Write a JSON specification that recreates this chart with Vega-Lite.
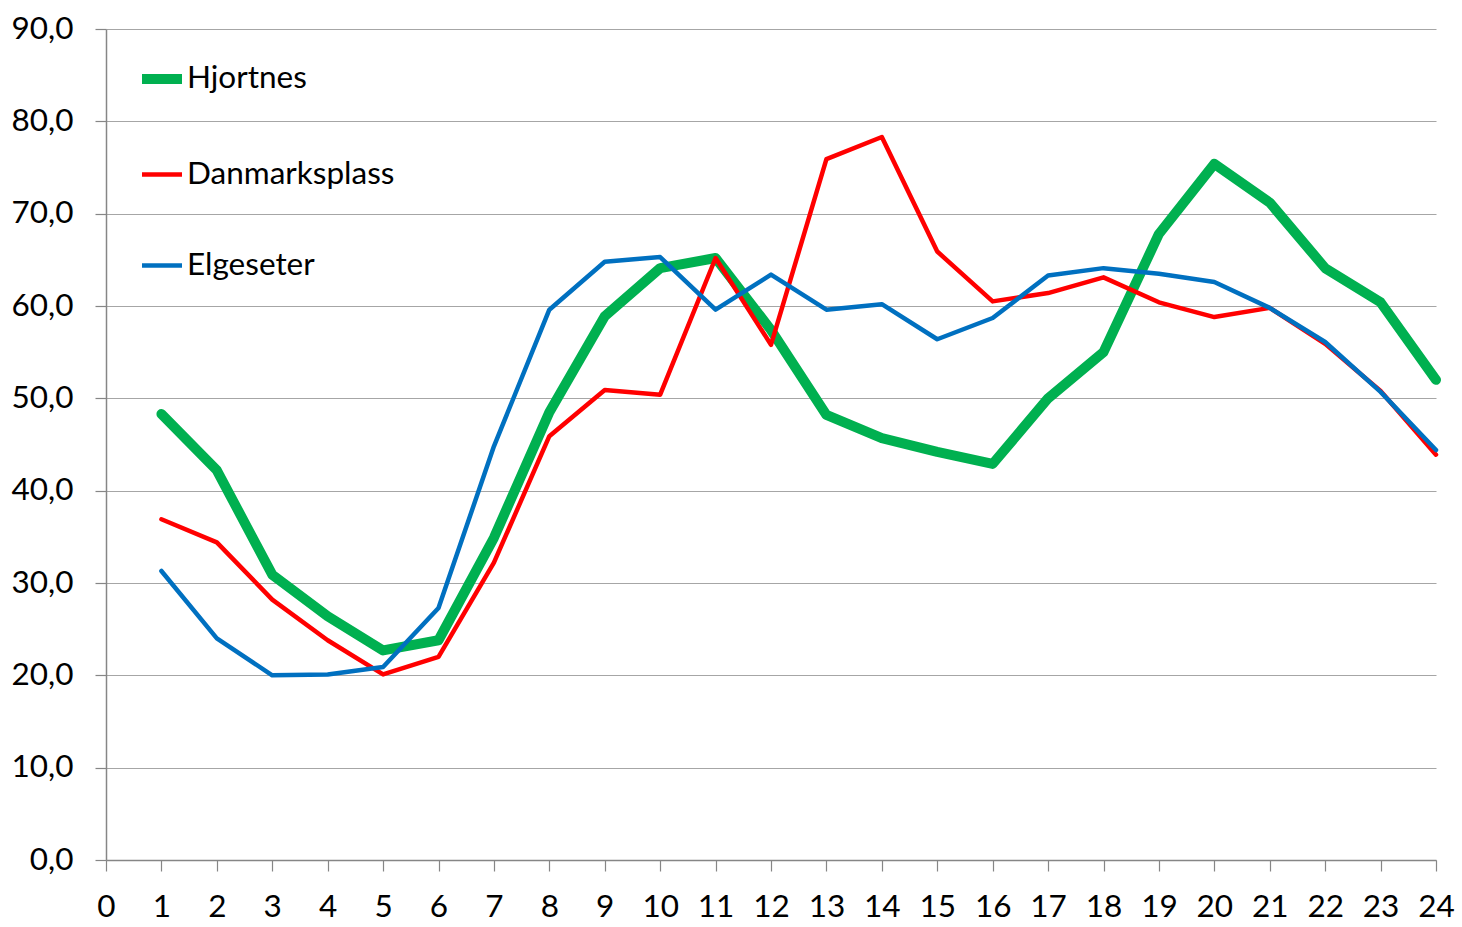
{
  "$schema": "https://vega.github.io/schema/vega-lite/v6.json",
  "autosize": {"type": "none"},
  "width": 1330,
  "height": 831,
  "padding": {"left": 106, "top": 29, "right": 26, "bottom": 67},
  "background": "white",
  "config": {
    "view": {"stroke": null},
    "font": "Lato",
    "axis": {"labelFont": "Lato", "labelFontSize": 31.5, "labelColor": "black", "domainColor": "#868686", "tickColor": "#868686", "gridColor": "#A6A6A6", "tickSize": 11, "domainWidth": 1.5, "tickWidth": 1.2, "gridWidth": 1.2},
    "legend": {"labelFont": "Lato", "labelFontSize": 31.5, "labelColor": "black", "labelLimit": 500, "padding": 0}
  },
  "data": {"values": [
    {"h":1,"s":"Hjortnes","v":48.3},{"h":2,"s":"Hjortnes","v":42.2},{"h":3,"s":"Hjortnes","v":30.9},{"h":4,"s":"Hjortnes","v":26.4},{"h":5,"s":"Hjortnes","v":22.7},{"h":6,"s":"Hjortnes","v":23.8},{"h":7,"s":"Hjortnes","v":34.9},{"h":8,"s":"Hjortnes","v":48.5},{"h":9,"s":"Hjortnes","v":58.9},{"h":10,"s":"Hjortnes","v":64.1},{"h":11,"s":"Hjortnes","v":65.2},{"h":12,"s":"Hjortnes","v":57.4},{"h":13,"s":"Hjortnes","v":48.2},{"h":14,"s":"Hjortnes","v":45.7},{"h":15,"s":"Hjortnes","v":44.2},{"h":16,"s":"Hjortnes","v":42.9},{"h":17,"s":"Hjortnes","v":50.0},{"h":18,"s":"Hjortnes","v":55.0},{"h":19,"s":"Hjortnes","v":67.8},{"h":20,"s":"Hjortnes","v":75.4},{"h":21,"s":"Hjortnes","v":71.2},{"h":22,"s":"Hjortnes","v":64.1},{"h":23,"s":"Hjortnes","v":60.4},{"h":24,"s":"Hjortnes","v":52.0},
    {"h":1,"s":"Danmarksplass","v":36.9},{"h":2,"s":"Danmarksplass","v":34.4},{"h":3,"s":"Danmarksplass","v":28.2},{"h":4,"s":"Danmarksplass","v":23.8},{"h":5,"s":"Danmarksplass","v":20.1},{"h":6,"s":"Danmarksplass","v":22.0},{"h":7,"s":"Danmarksplass","v":32.2},{"h":8,"s":"Danmarksplass","v":45.9},{"h":9,"s":"Danmarksplass","v":50.9},{"h":10,"s":"Danmarksplass","v":50.4},{"h":11,"s":"Danmarksplass","v":65.2},{"h":12,"s":"Danmarksplass","v":55.8},{"h":13,"s":"Danmarksplass","v":75.9},{"h":14,"s":"Danmarksplass","v":78.3},{"h":15,"s":"Danmarksplass","v":65.9},{"h":16,"s":"Danmarksplass","v":60.5},{"h":17,"s":"Danmarksplass","v":61.4},{"h":18,"s":"Danmarksplass","v":63.1},{"h":19,"s":"Danmarksplass","v":60.4},{"h":20,"s":"Danmarksplass","v":58.8},{"h":21,"s":"Danmarksplass","v":59.8},{"h":22,"s":"Danmarksplass","v":55.9},{"h":23,"s":"Danmarksplass","v":50.8},{"h":24,"s":"Danmarksplass","v":43.9},
    {"h":1,"s":"Elgeseter","v":31.3},{"h":2,"s":"Elgeseter","v":24.0},{"h":3,"s":"Elgeseter","v":20.0},{"h":4,"s":"Elgeseter","v":20.1},{"h":5,"s":"Elgeseter","v":20.9},{"h":6,"s":"Elgeseter","v":27.3},{"h":7,"s":"Elgeseter","v":44.8},{"h":8,"s":"Elgeseter","v":59.6},{"h":9,"s":"Elgeseter","v":64.8},{"h":10,"s":"Elgeseter","v":65.3},{"h":11,"s":"Elgeseter","v":59.6},{"h":12,"s":"Elgeseter","v":63.4},{"h":13,"s":"Elgeseter","v":59.6},{"h":14,"s":"Elgeseter","v":60.2},{"h":15,"s":"Elgeseter","v":56.4},{"h":16,"s":"Elgeseter","v":58.7},{"h":17,"s":"Elgeseter","v":63.3},{"h":18,"s":"Elgeseter","v":64.1},{"h":19,"s":"Elgeseter","v":63.5},{"h":20,"s":"Elgeseter","v":62.6},{"h":21,"s":"Elgeseter","v":59.8},{"h":22,"s":"Elgeseter","v":56.1},{"h":23,"s":"Elgeseter","v":50.7},{"h":24,"s":"Elgeseter","v":44.4}
  ]},
  "mark": {"type": "line", "strokeJoin": "round", "strokeCap": "round"},
  "encoding": {
    "x": {"field": "h", "type": "quantitative", "scale": {"domain": [0, 24], "nice": false, "zero": false},
      "axis": {"title": null, "values": [0,1,2,3,4,5,6,7,8,9,10,11,12,13,14,15,16,17,18,19,20,21,22,23,24], "grid": false, "labelPadding": 20, "labelFlush": false, "labelOverlap": false}},
    "y": {"field": "v", "type": "quantitative", "scale": {"domain": [0, 90], "nice": false},
      "axis": {"title": null, "values": [0,10,20,30,40,50,60,70,80,90], "labelPadding": 22, "labelExpr": "replace(format(datum.value, '.1f'), '.', ',')", "labelFlush": false}},
    "color": {"field": "s", "type": "nominal", "sort": ["Hjortnes", "Danmarksplass", "Elgeseter"],
      "scale": {"domain": ["Hjortnes", "Danmarksplass", "Elgeseter"], "range": ["#00B050", "#FF0000", "#0070C0"]},
      "legend": {"title": null, "orient": "none", "legendX": 31, "legendY": 25, "symbolType": "stroke", "symbolSize": 1600, "labelOffset": 0, "rowPadding": 53}},
    "strokeWidth": {"field": "s", "type": "nominal", "sort": ["Hjortnes", "Danmarksplass", "Elgeseter"],
      "scale": {"type": "ordinal", "domain": ["Hjortnes", "Danmarksplass", "Elgeseter"], "range": [10, 4.5, 4.5]},
      "legend": {"title": null, "orient": "none", "legendX": 31, "legendY": 25, "symbolType": "stroke", "symbolSize": 1600, "labelOffset": 0, "rowPadding": 53}},
    "order": {"field": "h", "type": "quantitative"}
  }
}
